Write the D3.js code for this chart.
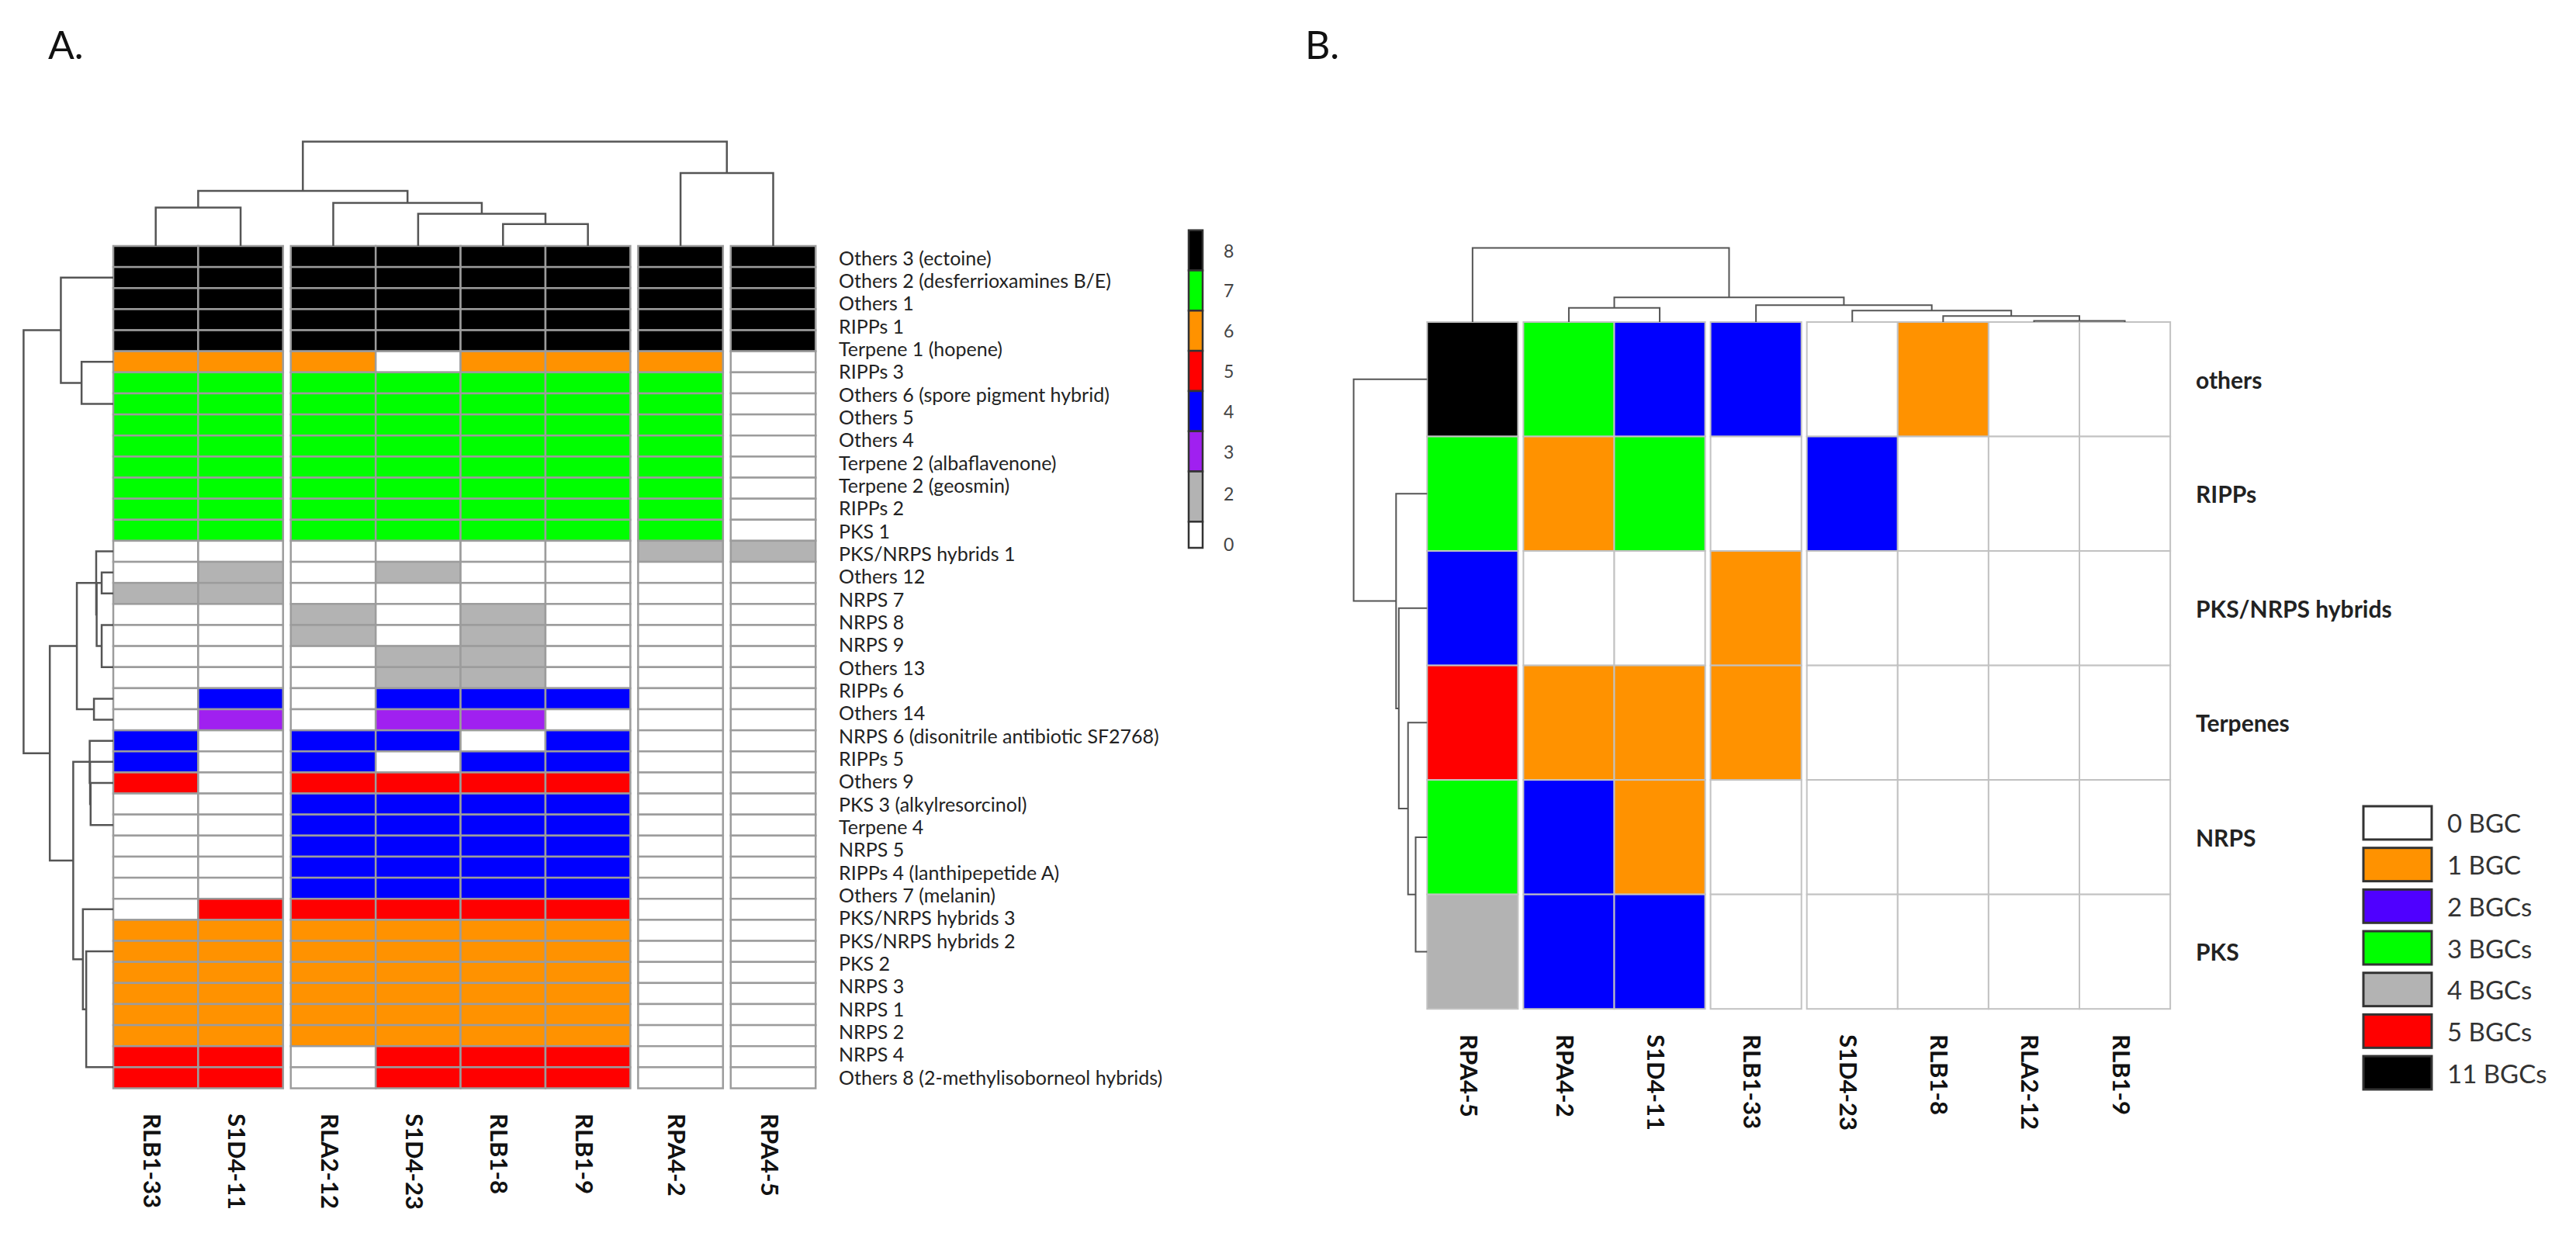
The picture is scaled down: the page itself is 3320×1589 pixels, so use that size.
<!DOCTYPE html>
<html>
<head>
<meta charset="utf-8">
<script src="https://cdn.jsdelivr.net/npm/d3@7/dist/d3.min.js"></script>
<style>
  html, body { margin: 0; padding: 0; background: #fff; }
  svg { display: block; }
</style>
</head>
<body>
<svg id="chart" width="3320" height="1589"></svg>
<script>
// ---------- Panel A data ----------
const strainsA = ["RLB1-33", "S1D4-11", "RLA2-12", "S1D4-23", "RLB1-8", "RLB1-9", "RPA4-2", "RPA4-5"];
// column clusters end after these positions
const splitsA = [2, 6, 7];

const rowLabelsA = [
    "Others 3 (ectoine)", "Others 2 (desferrioxamines B/E)", "Others 1", "RIPPs 1",
    "Terpene 1 (hopene)", "RIPPs 3", "Others 6 (spore pigment hybrid)", "Others 5",
    "Others 4", "Terpene 2 (albaflavenone)", "Terpene 2 (geosmin)", "RIPPs 2", "PKS 1",
    "PKS/NRPS hybrids 1", "Others 12", "NRPS 7", "NRPS 8", "NRPS 9", "Others 13",
    "RIPPs 6", "Others 14", "NRPS 6 (disonitrile antibiotic SF2768)", "RIPPs 5",
    "Others 9", "PKS 3 (alkylresorcinol)", "Terpene 4", "NRPS 5",
    "RIPPs 4 (lanthipepetide A)", "Others 7 (melanin)", "PKS/NRPS hybrids 3",
    "PKS/NRPS hybrids 2", "PKS 2", "NRPS 3", "NRPS 1", "NRPS 2", "NRPS 4",
    "Others 8 (2-methylisoborneol hybrids)"
];

// one row per heatmap line, value = number of strains sharing the cluster
const cellsA = [
    [8, 8, 8, 8, 8, 8, 8, 8],
    [8, 8, 8, 8, 8, 8, 8, 8],
    [8, 8, 8, 8, 8, 8, 8, 8],
    [8, 8, 8, 8, 8, 8, 8, 8],
    [8, 8, 8, 8, 8, 8, 8, 8],
    [6, 6, 6, 0, 6, 6, 6, 0],
    [7, 7, 7, 7, 7, 7, 7, 0],
    [7, 7, 7, 7, 7, 7, 7, 0],
    [7, 7, 7, 7, 7, 7, 7, 0],
    [7, 7, 7, 7, 7, 7, 7, 0],
    [7, 7, 7, 7, 7, 7, 7, 0],
    [7, 7, 7, 7, 7, 7, 7, 0],
    [7, 7, 7, 7, 7, 7, 7, 0],
    [7, 7, 7, 7, 7, 7, 7, 0],
    [0, 0, 0, 0, 0, 0, 2, 2],
    [0, 2, 0, 2, 0, 0, 0, 0],
    [2, 2, 0, 0, 0, 0, 0, 0],
    [0, 0, 2, 0, 2, 0, 0, 0],
    [0, 0, 2, 0, 2, 0, 0, 0],
    [0, 0, 0, 2, 2, 0, 0, 0],
    [0, 0, 0, 2, 2, 0, 0, 0],
    [0, 4, 0, 4, 4, 4, 0, 0],
    [0, 3, 0, 3, 3, 0, 0, 0],
    [4, 0, 4, 4, 0, 4, 0, 0],
    [4, 0, 4, 0, 4, 4, 0, 0],
    [5, 0, 5, 5, 5, 5, 0, 0],
    [0, 0, 4, 4, 4, 4, 0, 0],
    [0, 0, 4, 4, 4, 4, 0, 0],
    [0, 0, 4, 4, 4, 4, 0, 0],
    [0, 0, 4, 4, 4, 4, 0, 0],
    [0, 0, 4, 4, 4, 4, 0, 0],
    [0, 5, 5, 5, 5, 5, 0, 0],
    [6, 6, 6, 6, 6, 6, 0, 0],
    [6, 6, 6, 6, 6, 6, 0, 0],
    [6, 6, 6, 6, 6, 6, 0, 0],
    [6, 6, 6, 6, 6, 6, 0, 0],
    [6, 6, 6, 6, 6, 6, 0, 0],
    [6, 6, 6, 6, 6, 6, 0, 0],
    [5, 5, 0, 5, 5, 5, 0, 0],
    [5, 5, 0, 5, 5, 5, 0, 0]
];

const legendValuesA = [8, 7, 6, 5, 4, 3, 2, 0];
const legendColorsA = ["#000000", "#00ff00", "#ff9200", "#ff0000", "#0000ff", "#a020f0", "#b3b3b3", "#ffffff"];
const legendBreaksA = [8.5, 7.5, 6.5, 5.5, 4.5, 3.5, 2.5, 1.25, 0.6];
const legendTicksA = [8, 7, 6, 5, 4, 3, 1.95, 0.7];

// dendrograms: h = merge height, c = children; {at} = tied rows joined at height 0
const colTreeA = { h: 134.6, c: [
    { h: 71, c: [
        { h: 49.5, c: ["RLB1-33", "S1D4-11"] },
        { h: 55.5, c: ["RLA2-12", { h: 41.4, c: ["S1D4-23", { h: 28.2, c: ["RLB1-8", "RLB1-9"] }] }] }
    ] },
    { h: 94, c: ["RPA4-2", "RPA4-5"] }
] };

const rowTreeA = { h: 116, c: [
    { h: 67.8, c: [{ at: 1 }, { h: 41, c: [5, { at: 7 }] }] },
    { h: 82.1, c: [
        { h: 47.1, c: [
            { h: 22.1, c: [14, { h: 21.5, c: [
                { h: 15, c: [15, 16] },
                { h: 15, c: [{ at: 17.5 }, { at: 19.5 }] }
            ] }] },
            { h: 25, c: [21, 22] }
        ] },
        { h: 51.8, c: [
            { h: 30.5, c: [23, { h: 30, c: [24, { h: 29.3, c: [25, { at: 27 }] }] }] },
            { h: 39.3, c: [31, { h: 35, c: [{ at: 33 }, { at: 38.5 }] }] }
        ] }
    ] }
] };

// ---------- Panel B data ----------
const strainsB = ["RPA4-5", "RPA4-2", "S1D4-11", "RLB1-33", "S1D4-23", "RLB1-8", "RLA2-12", "RLB1-9"];
const splitsB = [1, 3, 4];
const classesB = ["others", "RIPPs", "PKS/NRPS hybrids", "Terpenes", "NRPS", "PKS"];
const countsB = [
    [11, 3, 2, 2, 0, 1, 0, 0],
    [3, 1, 3, 0, 2, 0, 0, 0],
    [2, 0, 0, 1, 0, 0, 0, 0],
    [5, 1, 1, 1, 0, 0, 0, 0],
    [3, 2, 1, 0, 0, 0, 0, 0],
    [4, 2, 2, 0, 0, 0, 0, 0]
];
const legendValuesB = [0, 1, 2, 3, 4, 5, 11];
const legendLabelsB = ["0 BGC", "1 BGC", "2 BGCs", "3 BGCs", "4 BGCs", "5 BGCs", "11 BGCs"];
const cellColorsB = ["#ffffff", "#ff9200", "#0000ff", "#00ff00", "#b3b3b3", "#ff0000", "#000000"];
const swatchColorsB = ["#ffffff", "#ff9200", "#4f00ff", "#00ff00", "#b3b3b3", "#ff0000", "#000000"];

const colTreeB = { h: 95.4, c: ["RPA4-5", { h: 31.6, c: [
    { h: 18.3, c: ["RPA4-2", "S1D4-11"] },
    { h: 21.8, c: ["RLB1-33", { h: 14.8, c: ["S1D4-23", { h: 7.7, c: ["RLB1-8", { h: 1.4, c: ["RLA2-12", "RLB1-9"] }] }] }] }
] }] };

const rowTreeB = { h: 94.7, c: ["others", { h: 40, c: ["RIPPs", { h: 36.5, c: ["PKS/NRPS hybrids",
    { h: 24.6, c: ["Terpenes", { h: 14.8, c: ["NRPS", "PKS"] }] }] }] }] };

// ---------- helpers ----------
const svg = d3.select("#chart");
const LABEL_FONT = "Lato, 'Open Sans', sans-serif";

// builds one elbow path per merge; pos() gives the leaf coordinate along the heatmap side
function drawDendro(g, tree, pos, hScale, orient, style) {
    const isNode = n => n && typeof n === "object" && n.c;
    const where = n => isNode(n) ? (where(n.c[0]) + where(n.c[1])) / 2 : pos(n);
    const height = n => isNode(n) ? n.h : 0;
    const segs = [];
    (function walk(n) {
        if (!isNode(n)) return;
        const [a, b] = n.c;
        segs.push({ pa: where(a), pb: where(b), ha: height(a), hb: height(b), h: n.h });
        walk(a);
        walk(b);
    })(tree);

    g.selectAll("path")
        .data(segs)
        .join("path")
        .attr("d", s => {
            const p = d3.path();
            if (orient === "top") {
                p.moveTo(s.pa, hScale(s.ha));
                p.lineTo(s.pa, hScale(s.h));
                p.lineTo(s.pb, hScale(s.h));
                p.lineTo(s.pb, hScale(s.hb));
            } else {
                p.moveTo(hScale(s.ha), s.pa);
                p.lineTo(hScale(s.h), s.pa);
                p.lineTo(hScale(s.h), s.pb);
                p.lineTo(hScale(s.hb), s.pb);
            }
            return p.toString();
        })
        .attr("fill", "none")
        .attr("stroke", style.color)
        .attr("stroke-width", style.width);
}

function drawColumnLabels(g, names, centerX, top) {
    g.selectAll("text")
        .data(names)
        .join("text")
        .attr("transform", d => `translate(${centerX(d) - 4},${top}) rotate(90)`)
        .attr("dominant-baseline", "central")
        .attr("font-family", LABEL_FONT)
        .attr("font-weight", "bold")
        .attr("font-size", "31px")
        .attr("fill", "#111")
        .text(d => d);
}

// ---------- Panel A ----------
const A = { x0: 146, y0: 317, y1: 1402.5, cellW: 109.4, gap: 10 };

const xA = d3.scaleBand().domain(strainsA).range([0, strainsA.length * A.cellW]);
const colXA = s => A.x0 + xA(s) + A.gap * splitsA.filter(k => strainsA.indexOf(s) >= k).length;
const colCenterA = s => colXA(s) + xA.bandwidth() / 2;
const yA = d3.scaleBand().domain(d3.range(cellsA.length)).range([A.y0, A.y1]);
const rowCenterA = d3.scaleLinear()
    .domain([0, cellsA.length - 1])
    .range([yA(0) + yA.bandwidth() / 2, yA(cellsA.length - 1) + yA.bandwidth() / 2]);
const yLabA = d3.scaleBand().domain(rowLabelsA).range([A.y0, A.y1]);
const colorA = d3.scaleOrdinal().domain(legendValuesA).range(legendColorsA);

const gA = svg.append("g").attr("class", "panel-a");

gA.append("text")
    .attr("x", 62).attr("y", 76)
    .attr("font-family", LABEL_FONT)
    .attr("font-size", "50px")
    .attr("fill", "#111")
    .text("A.");

// heatmap cells
const cellDataA = cellsA.flatMap((row, r) => row.map((v, c) => ({ r, s: strainsA[c], v })));
gA.append("g").attr("class", "cells")
    .selectAll("rect")
    .data(cellDataA)
    .join("rect")
    .attr("x", d => colXA(d.s))
    .attr("y", d => yA(d.r))
    .attr("width", xA.bandwidth())
    .attr("height", yA.bandwidth())
    .attr("fill", d => colorA(d.v))
    .attr("stroke", "#9c9c9c")
    .attr("stroke-width", 2.5);

// row labels (37 names spread over the 40 heatmap lines)
gA.append("g").attr("class", "row-labels")
    .selectAll("text")
    .data(rowLabelsA)
    .join("text")
    .attr("x", 1081)
    .attr("y", d => yLabA(d) + yLabA.bandwidth() / 2)
    .attr("dominant-baseline", "central")
    .attr("font-family", LABEL_FONT)
    .attr("font-size", "25px")
    .attr("fill", "#222")
    .text(d => d);

drawColumnLabels(gA.append("g").attr("class", "col-labels"), strainsA, colCenterA, 1435);

drawDendro(gA.append("g").attr("class", "col-dendro"), colTreeA, colCenterA,
    d3.scaleLinear().domain([0, 134.6]).range([A.y0, 182.4]), "top", { color: "#555", width: 2.5 });

const rowPosA = n => rowCenterA(typeof n === "object" ? n.at : n);
drawDendro(gA.append("g").attr("class", "row-dendro"), rowTreeA, rowPosA,
    d3.scaleLinear().domain([0, 116]).range([A.x0, 30.4]), "left", { color: "#555", width: 2.5 });

// colour key
const cbA = d3.scaleLinear().domain([8.5, 0.6]).range([296.7, 706]);
const keyA = gA.append("g").attr("class", "color-key");
keyA.selectAll("rect")
    .data(legendValuesA)
    .join("rect")
    .attr("x", 1532)
    .attr("y", (d, i) => cbA(legendBreaksA[i]))
    .attr("width", 18)
    .attr("height", (d, i) => cbA(legendBreaksA[i + 1]) - cbA(legendBreaksA[i]))
    .attr("fill", d => colorA(d))
    .attr("stroke", "#333")
    .attr("stroke-width", 2.5);
keyA.selectAll("text")
    .data(legendValuesA)
    .join("text")
    .attr("x", 1577)
    .attr("y", (d, i) => cbA(legendTicksA[i]))
    .attr("dominant-baseline", "central")
    .attr("font-family", LABEL_FONT)
    .attr("font-size", "23px")
    .attr("fill", "#444")
    .text(d => d);

// ---------- Panel B ----------
const B = { x0: 1839.3, y0: 415, y1: 1300.2, cellW: 117.1, gap: 7 };

const xB = d3.scaleBand().domain(strainsB).range([0, strainsB.length * B.cellW]);
const colXB = s => B.x0 + xB(s) + B.gap * splitsB.filter(k => strainsB.indexOf(s) >= k).length;
const colCenterB = s => colXB(s) + xB.bandwidth() / 2;
const yB = d3.scaleBand().domain(classesB).range([B.y0, B.y1]);
const rowCenterB = k => yB(k) + yB.bandwidth() / 2;
const colorB = d3.scaleOrdinal().domain(legendValuesB).range(cellColorsB);

const gB = svg.append("g").attr("class", "panel-b");

gB.append("text")
    .attr("x", 1682).attr("y", 76)
    .attr("font-family", LABEL_FONT)
    .attr("font-size", "50px")
    .attr("fill", "#111")
    .text("B.");

const cellDataB = countsB.flatMap((row, r) => row.map((v, c) => ({ k: classesB[r], s: strainsB[c], v })));
gB.append("g").attr("class", "cells")
    .selectAll("rect")
    .data(cellDataB)
    .join("rect")
    .attr("x", d => colXB(d.s))
    .attr("y", d => yB(d.k))
    .attr("width", xB.bandwidth())
    .attr("height", yB.bandwidth())
    .attr("fill", d => colorB(d.v))
    .attr("stroke", "#c2c2c2")
    .attr("stroke-width", 2);

gB.append("g").attr("class", "row-labels")
    .selectAll("text")
    .data(classesB)
    .join("text")
    .attr("x", 2830)
    .attr("y", d => rowCenterB(d))
    .attr("dominant-baseline", "central")
    .attr("font-family", LABEL_FONT)
    .attr("font-weight", "bold")
    .attr("font-size", "30px")
    .attr("fill", "#222")
    .text(d => d);

drawColumnLabels(gB.append("g").attr("class", "col-labels"), strainsB, colCenterB, 1333);

drawDendro(gB.append("g").attr("class", "col-dendro"), colTreeB, colCenterB,
    d3.scaleLinear().domain([0, 95.4]).range([B.y0, 319.5]), "top", { color: "#555", width: 2 });
drawDendro(gB.append("g").attr("class", "row-dendro"), rowTreeB, rowCenterB,
    d3.scaleLinear().domain([0, 94.7]).range([B.x0, 1744.6]), "left", { color: "#555", width: 2 });

// legend
const legB = d3.scaleBand().domain(legendLabelsB).range([1039, 1404]).paddingInner(0.2);
const keyB = gB.append("g").attr("class", "legend");
keyB.selectAll("rect")
    .data(legendLabelsB)
    .join("rect")
    .attr("x", 3046)
    .attr("y", d => legB(d))
    .attr("width", 88)
    .attr("height", legB.bandwidth())
    .attr("fill", (d, i) => swatchColorsB[i])
    .attr("stroke", "#333")
    .attr("stroke-width", 3);
keyB.selectAll("text")
    .data(legendLabelsB)
    .join("text")
    .attr("x", 3154)
    .attr("y", d => legB(d) + legB.bandwidth() / 2)
    .attr("dominant-baseline", "central")
    .attr("font-family", LABEL_FONT)
    .attr("font-size", "33px")
    .attr("fill", "#333")
    .text(d => d);
</script>
</body>
</html>
